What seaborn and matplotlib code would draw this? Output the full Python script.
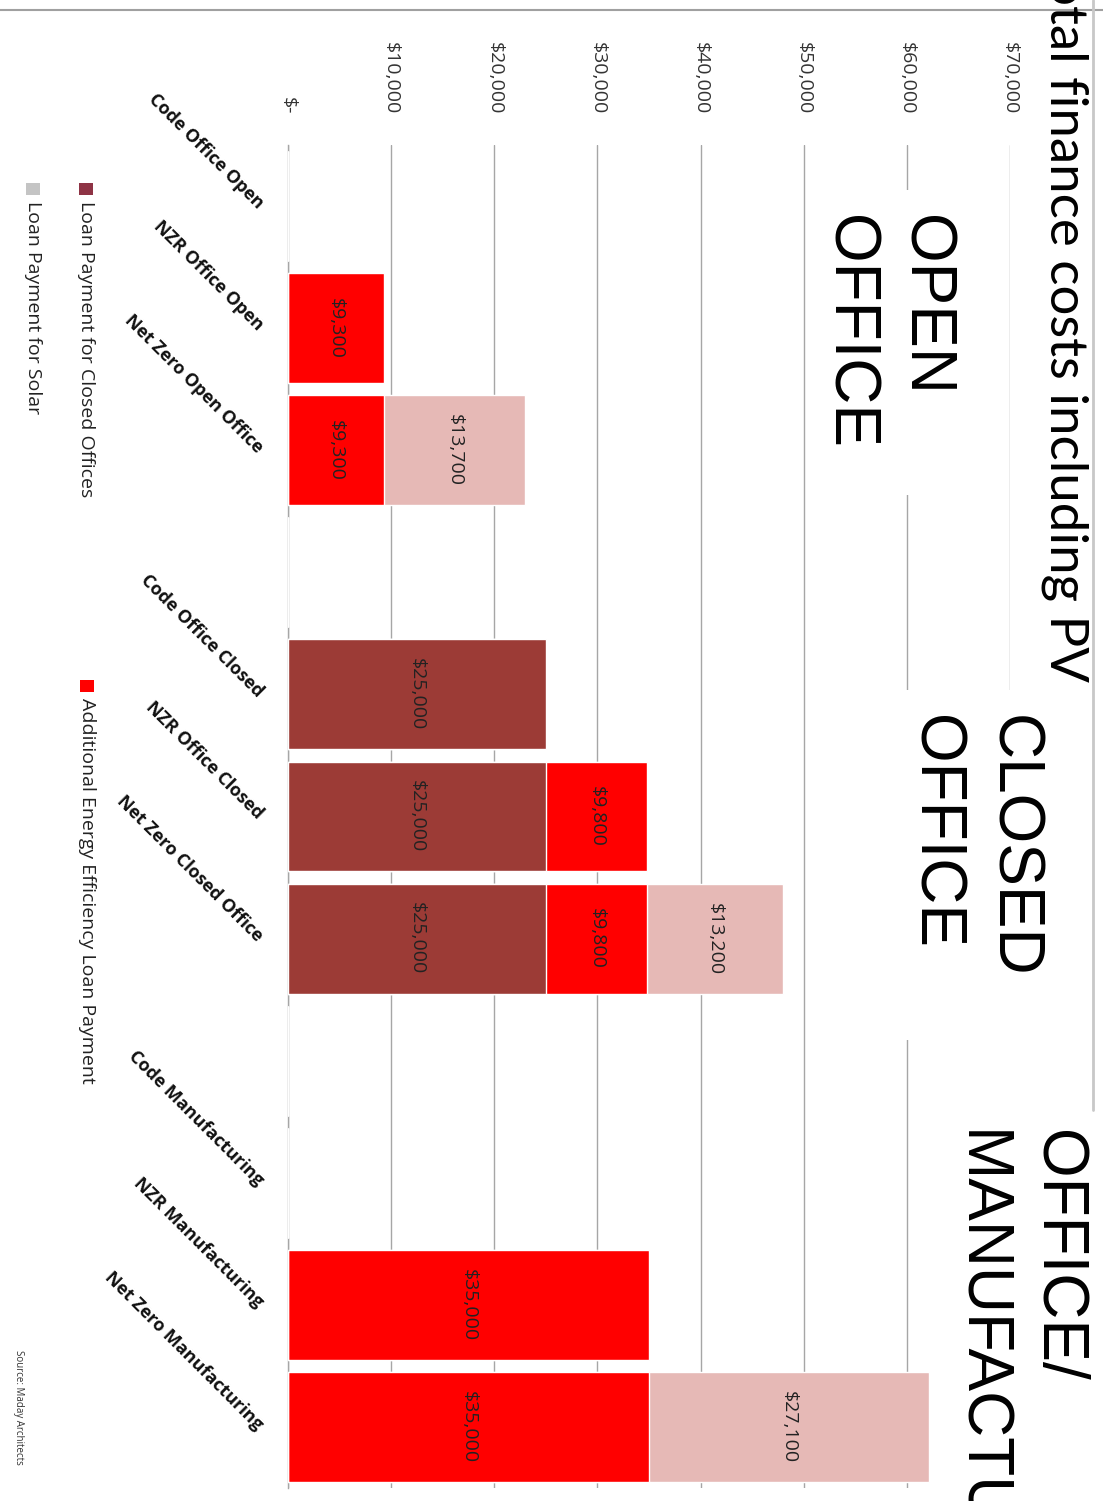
import matplotlib
matplotlib.use("Agg")
import matplotlib.pyplot as plt
import seaborn as sns
import pandas as pd
from matplotlib.patches import Rectangle
from matplotlib.lines import Line2D

# ---------------- data ----------------
categories = ["Code Office Open", "NZR Office Open", "Net Zero Open Office", " ",
              "Code Office Closed", "NZR Office Closed", "Net Zero Closed Office", "  ",
              "Code Manufacturing", "NZR Manufacturing", "Net Zero Manufacturing"]
closed_loan = [0, 0, 0, 0, 25000, 25000, 25000, 0, 0, 0, 0]
efficiency_loan = [0, 9300, 9300, 0, 0, 9800, 9800, 0, 0, 35000, 35000]
solar_loan = [0, 0, 13700, 0, 0, 0, 13200, 0, 0, 0, 27100]
value_ticks = [0, 10000, 20000, 30000, 40000, 50000, 60000, 70000]
value_tick_labels = ["$-", "$10,000", "$20,000", "$30,000", "$40,000", "$50,000", "$60,000", "$70,000"]
legend_labels = ["Loan Payment for Closed Offices", "Additional Energy Efficiency Loan Payment",
                 "Loan Payment for Solar"]
title = "Total finance costs including PV"
group_labels = [["OPEN", "OFFICE"], ["CLOSED", "OFFICE"], ["OFFICE/", "MANUFACTURING"]]
source = "Source: Maday Architects"

BROWN = "#9C3B36"
RED = "#FF0000"
PINK = "#E6B9B6"
LEG_BROWN = "#8E3345"
LEG_GRAY = "#C4C4C4"

df = pd.DataFrame({"category": categories, "closed": closed_loan,
                   "eff": efficiency_loan, "solar": solar_loan})
df["closed_eff"] = df["closed"] + df["eff"]
df["total"] = df["closed_eff"] + df["solar"]

W, H = 1103, 1501
def fx(px):
    return px / W
def fy(py):
    return 1 - py / H

sns.set_theme(style="white")
plt.rcParams["font.family"] = ["Open Sans", "DejaVu Sans"]

fig = plt.figure(figsize=(W / 100, H / 100), dpi=100)
ax = fig.add_axes([fx(288), fy(1488), fx(1010) - fx(288), fy(145) - fy(1488)])

# stacked horizontal bars drawn back to front
sns.barplot(data=df, x="total", y="category", orient="h", order=categories,
            color=PINK, saturation=1, width=0.9, ax=ax, errorbar=None, zorder=3)
sns.barplot(data=df, x="closed_eff", y="category", orient="h", order=categories,
            color=RED, saturation=1, width=0.9, ax=ax, errorbar=None, zorder=3)
sns.barplot(data=df, x="closed", y="category", orient="h", order=categories,
            color=BROWN, saturation=1, width=0.9, ax=ax, errorbar=None, zorder=3)

# segment value labels
for i, row in df.iterrows():
    left = 0
    for key in ["closed", "eff", "solar"]:
        v = row[key]
        if v > 0:
            ax.text(left + v / 2, i, f"${v:,.0f}", rotation=-90, ha="center", va="center",
                    fontsize=14, color="#222222", zorder=5)
        left += v

ax.set_xlim(0, 70000)
ax.set_ylim(10.5, -0.5)
ax.set_xlabel("")
ax.set_ylabel("")
ax.xaxis.tick_top()
ax.set_xticks(value_ticks)
ax.set_xticklabels(value_tick_labels, rotation=-90, fontsize=14, color="#333333")
ax.tick_params(axis="x", length=0, pad=22)
ax.set_yticks(range(len(categories)))
ax.set_yticklabels(categories, rotation=-45, ha="right", va="center",
                   rotation_mode="anchor", fontsize=13, fontweight="bold", color="#111111")
ax.tick_params(axis="y", length=0, pad=20)
ax.grid(axis="x", color="#A6A6A6", linewidth=1, zorder=0)
ax.set_axisbelow(True)
for s in ["top", "right", "bottom"]:
    ax.spines[s].set_visible(False)
ax.spines["left"].set_color("#A6A6A6")
ax.spines["left"].set_linewidth(1)

# white text-box backgrounds hiding gridlines
for (x0, y0, x1, y1) in [(815, 190, 1000, 495), (895, 690, 1093, 1040), (940, 1040, 1103, 1501)]:
    fig.patches.append(Rectangle((fx(x0), fy(y1)), fx(x1) - fx(x0), fy(y0) - fy(y1),
                                 transform=fig.transFigure, facecolor="white",
                                 edgecolor="none", zorder=2))

# decorative slide lines
fig.add_artist(Line2D([0, 1], [fy(10), fy(10)], transform=fig.transFigure,
                      color="#A0A0A0", linewidth=1.5, zorder=3))
fig.add_artist(Line2D([fx(1093), fx(1093)], [fy(0), fy(1110)], transform=fig.transFigure,
                      color="#C8C8C8", linewidth=2, zorder=3))

# title (partially off canvas, as in the reference)
fig.text(fx(1050), fy(682), title, rotation=-90, rotation_mode="anchor", ha="right",
         va="baseline", fontsize=38, family=["Lato", "DejaVu Sans"], fontweight="normal",
         color="black", zorder=4)

# group labels
group_pos = [((908, 832), 215), ((995, 918), 715), ((1040, 962), 1130)]
for lines, ((xa, xb), ystart) in zip(group_labels, group_pos):
    for txt, xb_ in zip(lines, (xa, xb)):
        fig.text(fx(xb_), fy(ystart), txt, rotation=-90, rotation_mode="anchor",
                 ha="left", va="baseline", fontsize=46,
                 family=["Liberation Sans", "DejaVu Sans"], color="black", zorder=4)

# legend (rotated, built manually)
leg_items = [(LEG_BROWN, legend_labels[0], 86, 189), (RED, legend_labels[1], 87, 686),
             (LEG_GRAY, legend_labels[2], 33, 189)]
for col, lab, xc, yc in leg_items:
    fig.patches.append(Rectangle((fx(xc - 7), fy(yc + 6)), 14 / W, 12 / H,
                                 transform=fig.transFigure, facecolor=col,
                                 edgecolor="none", zorder=4))
    fig.text(fx(xc), fy(yc + 12), lab, rotation=-90, rotation_mode="anchor",
             ha="left", va="center", fontsize=14, color="#222222", zorder=4)

fig.text(fx(16), fy(1350), source, rotation=-90, rotation_mode="anchor", ha="left",
         va="baseline", fontsize=7, color="#333333", zorder=4)

fig.savefig("out.png", dpi=100, facecolor="white")
